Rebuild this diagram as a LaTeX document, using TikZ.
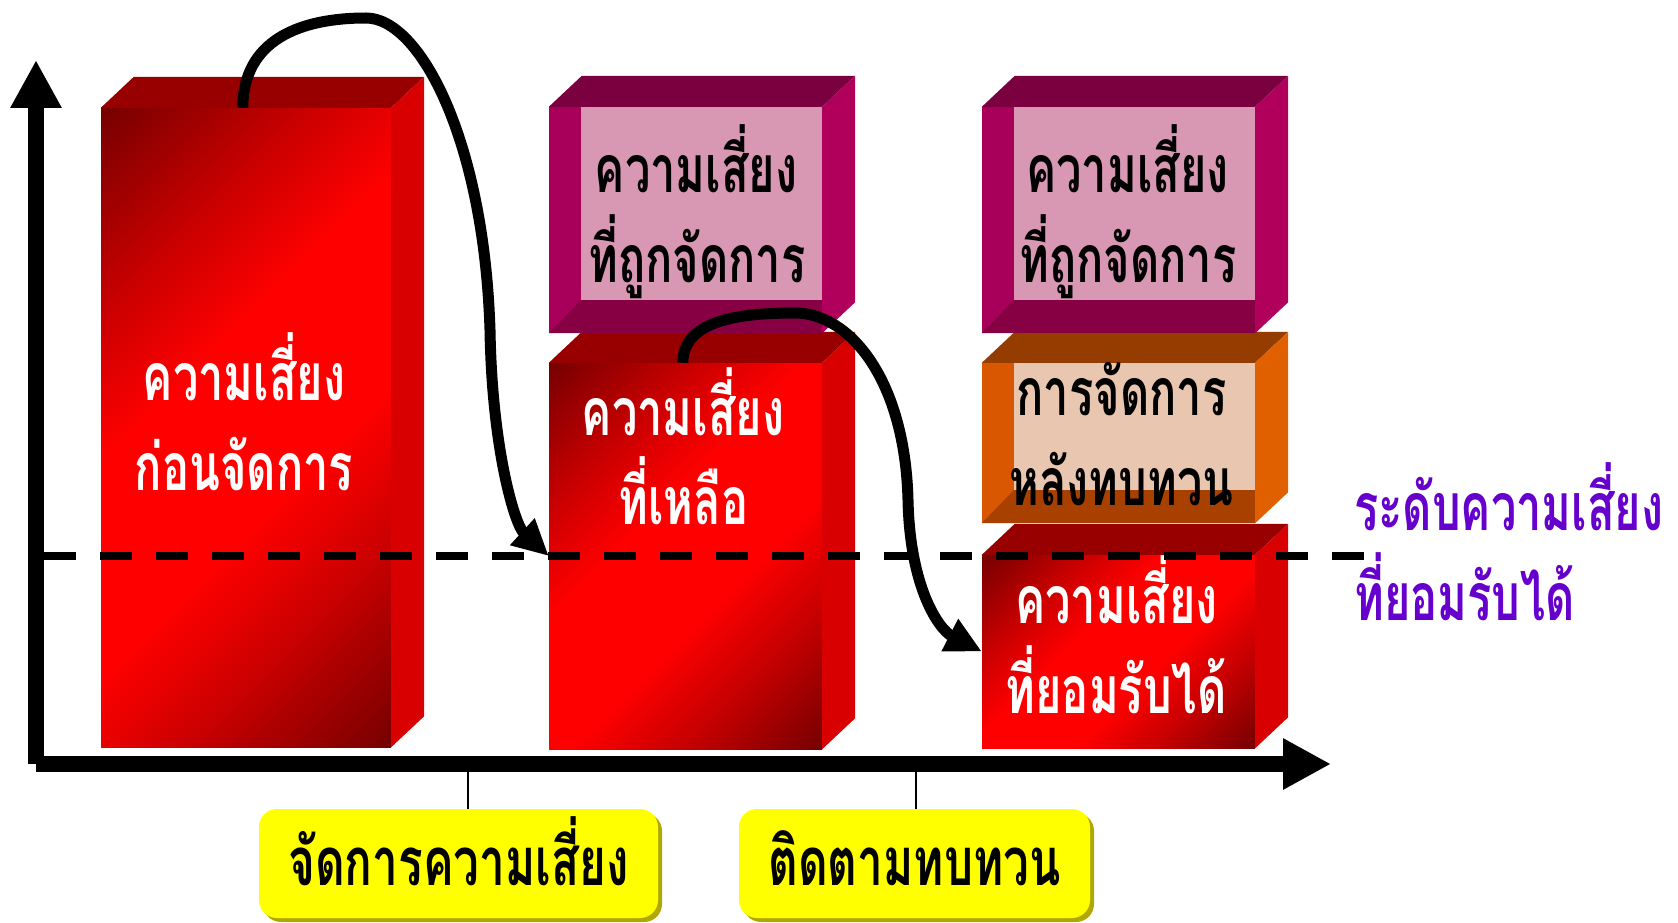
\documentclass[tikz,border=0pt]{standalone}
\usepackage{fontspec}
\newfontfamily\thaifont[Script=Thai,FakeStretch=0.685]{Loma}
\usetikzlibrary{arrows.meta,shadows}
\definecolor{rgDark}{HTML}{780000}
\definecolor{rgMid}{HTML}{C80000}
\definecolor{rgBright}{HTML}{FF0000}
\definecolor{redTop}{HTML}{980000}
\definecolor{redSide}{HTML}{D80000}
\definecolor{magTop}{HTML}{7A0040}
\definecolor{magLeft}{HTML}{A8005A}
\definecolor{magSide}{HTML}{B0005C}
\definecolor{magBottom}{HTML}{880044}
\definecolor{magInner}{HTML}{D898B4}
\definecolor{orTop}{HTML}{953D00}
\definecolor{orLeft}{HTML}{D95700}
\definecolor{orSide}{HTML}{E06000}
\definecolor{orBottom}{HTML}{A84000}
\definecolor{orInner}{HTML}{E9C6B0}
\definecolor{yBox}{HTML}{FFFF00}
\definecolor{yShadow}{HTML}{B0A800}
\definecolor{levelPurple}{HTML}{6600CC}
\pgfdeclarehorizontalshading{redgrad}{100bp}{color(0bp)=(rgDark); color(15bp)=(rgDark); color(30bp)=(rgMid); color(42bp)=(rgBright); color(58bp)=(rgBright); color(70bp)=(rgMid); color(85bp)=(rgDark); color(100bp)=(rgDark)}
\newcommand\cubefaces[3]{%
  \fill[#2] (#1.north west) -- ([shift={(33,-31)}]#1.north west) -- ([shift={(33,-31)}]#1.north east) -- (#1.north east) -- cycle;
  \fill[#3] (#1.north east) -- ([shift={(33,-31)}]#1.north east) -- ([shift={(33,-31)}]#1.south east) -- (#1.south east) -- cycle;}
\newcommand\bevelfaces[5]{%
  \fill[#2] ([xshift=32pt]#1.north west) rectangle ([yshift=33pt]#1.south east);
  \fill[#3] (#1.south west) -- ([shift={(32,-33)}]#1.south west) -- ([yshift=33pt]#1.south east) -- (#1.south east) -- cycle;
  \cubefaces{#1}{#4}{#5}}
\begin{document}
\begin{tikzpicture}[x=1pt,y=-1pt,
  redfront/.style={draw=none,inner sep=0,shading=redgrad,shading angle=-45},
  flatfront/.style={draw=none,inner sep=0,fill=#1},
  thai/.style={font=\thaifont\bfseries\fontsize{66}{70}\selectfont,inner sep=0,anchor=base},
  wtext/.style={thai,text=white},
  btext/.style={thai,text=black},
  ptext/.style={thai,text=levelPurple,anchor=base west},
  ybox/.style={draw=none,fill=yBox,rounded corners=18pt,minimum width=399pt,minimum height=109pt,inner sep=0,text height=43pt,text depth=0pt,font=\thaifont\bfseries\fontsize{67}{70}\selectfont,drop shadow={shadow xshift=4pt,shadow yshift=-4pt,fill=yShadow,opacity=1}},
  axisline/.style={line width=16pt,-{Triangle[length=48pt,width=48pt]}},
  conn/.style={line width=11pt,-{Triangle[length=36pt,width=34pt]}},
  dashline/.style={line width=8pt,dash pattern=on 32pt off 24pt},
  tick/.style={line width=1.5pt}]
\useasboundingbox (0,0) rectangle (1678,923);
% boxes
\node[redfront,minimum width=290pt,minimum height=639pt] (r1) at (246,427.5) {};
\cubefaces{r1}{redTop}{redSide}
\node[redfront,minimum width=273pt,minimum height=386pt] (r2) at (685.5,556) {};
\cubefaces{r2}{redTop}{redSide}
\node[flatfront=magLeft,minimum width=273pt,minimum height=226pt] (m2) at (685.5,220) {};
\bevelfaces{m2}{magInner}{magBottom}{magTop}{magSide}
\node[redfront,minimum width=273pt,minimum height=193pt] (r3) at (1118.5,651.5) {};
\cubefaces{r3}{redTop}{redSide}
\node[flatfront=orLeft,minimum width=273pt,minimum height=160pt] (o3) at (1118.5,443) {};
\bevelfaces{o3}{orInner}{orBottom}{orTop}{orSide}
\node[flatfront=magLeft,minimum width=273pt,minimum height=226pt] (m3) at (1118.5,220) {};
\bevelfaces{m3}{magInner}{magBottom}{magTop}{magSide}
% texts
\node[wtext] (t1a) at (244,400) {ความเสี่ยง};
\node[wtext] (t1b) at (244,490) {ก่อนจัดการ};
\node[btext] (t2a) at (696,192) {ความเสี่ยง};
\node[btext] (t2b) at (697,282) {ที่ถูกจัดการ};
\node[wtext] (t3a) at (683,435) {ความเสี่ยง};
\node[wtext] (t3b) at (683.5,524) {ที่เหลือ};
\node[btext] (t4a) at (1127.5,192) {ความเสี่ยง};
\node[btext] (t4b) at (1128,282) {ที่ถูกจัดการ};
\node[btext] (t5a) at (1121.5,415) {การจัดการ};
\node[btext] (t5b) at (1121.5,505) {หลังทบทวน};
\node[wtext] (t6a) at (1116.5,623) {ความเสี่ยง};
\node[wtext] (t6b) at (1116,713) {ที่ยอมรับได้};
\node[ptext] (lv1) at (1354,530) {ระดับความเสี่ยง};
\node[ptext] (lv2) at (1354,620) {ที่ยอมรับได้};
% axes
\coordinate (o) at (36,764);
\coordinate (ytip) at (36,60);
\coordinate (xtip) at (1331,764);
\draw[axisline] (o) -- (ytip);
\draw[axisline] (o) -- (xtip);
% acceptable level
\coordinate (dl) at (44,556);
\coordinate (dr) at (1364,556);
\draw[dashline] (dl) -- (dr);
% process boxes
\node[ybox] (y1) at (458.5,863.5) {จัดการความเสี่ยง};
\node[ybox,minimum width=351pt] (y2) at (914.5,863.5) {ติดตามทบทวน};
\coordinate (k1) at (468,772);
\coordinate (k2) at (916,772);
\draw[tick] (k1) -- (k1 |- y1.north);
\draw[tick] (k2) -- (k2 |- y2.north);
% curved arrows
\draw[conn] ([xshift=142pt]r1.north west) .. controls (243,40) and (300,18) .. (366,18) .. controls (420,18) and (484,140) .. (490,330) .. controls (492,450) and (515,525) .. (r2.west |- dl);
\draw[conn] ([xshift=134pt]r2.north west) .. controls (683,320) and (740,313) .. (795,313) .. controls (850,313) and (905,380) .. (908,500) .. controls (910,590) and (940,630) .. (r3.west);
\end{tikzpicture}
\end{document}
